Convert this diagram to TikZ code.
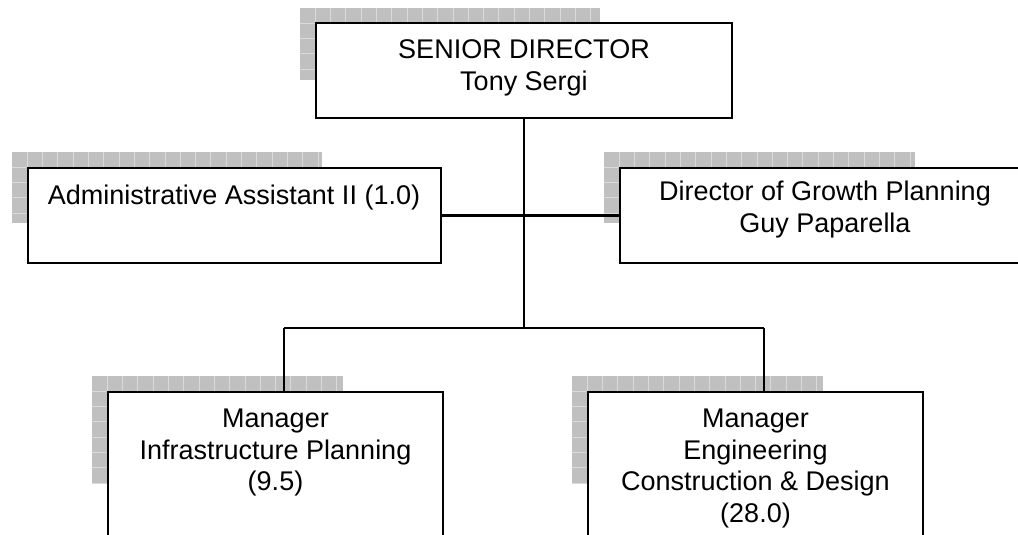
\documentclass[tikz,border=0pt]{standalone}
\usepackage{fontspec}
\setmainfont{Liberation Sans}
\definecolor{shadowgray}{HTML}{C0C0C0}
\definecolor{gridwhite}{HTML}{DADADA}
\newcommand\gshadow[4]{%
  \begin{scope}
    \clip (#1,#2) rectangle (#3,#4);
    \fill[shadowgray] (#1,#2) rectangle (#3,#4);
    \foreach \i in {1,...,24} { \draw[gridln] ({#1+15.3*\i},#2) -- ({#1+15.3*\i},#4); }
    \foreach \j in {1,...,8} { \draw[gridln] (#1,{#2+15.3*\j}) -- (#3,{#2+15.3*\j}); }
  \end{scope}}
\begin{document}
\begin{tikzpicture}[x=1pt,y=-1pt,
  orgbox/.style={draw, line width=2.8pt, fill=white, rectangle, inner sep=0pt},
  orgtext/.style={align=center, anchor=north, inner sep=0pt, font=\fontsize{27}{31.5}\selectfont},
  conn/.style={line width=2.8pt},
  gridln/.style={draw=gridwhite, line width=0.9pt}]
\useasboundingbox (0,0) rectangle (1018,535);
\clip (0,0) rectangle (1018,535);
\fill[white] (0,0) rectangle (1018,535);

% shadows
\gshadow{300}{8}{600}{80}
\gshadow{12}{152}{322}{223}
\gshadow{604}{152}{915}{223}
\gshadow{92}{376}{343}{483}
\gshadow{572}{376}{823}{483}

% bus coordinates
\coordinate (busmid) at (524,328);
\coordinate (busL) at (284,328);
\coordinate (busR) at (764,328);

% boxes
\node[orgbox, minimum width=416pt, minimum height=95pt] (senior) at (524,70.5) {};
\node[orgbox, minimum width=413pt, minimum height=95pt] (admin) at (234.5,215.5) {};
\node[orgbox, minimum width=410pt, minimum height=95pt] (growth) at (825,215.5) {};
\node[orgbox, minimum width=335pt, minimum height=150pt] (infra) at (275.5,467) {};
\node[orgbox, minimum width=335pt, minimum height=150pt] (eng) at (755.5,467) {};

% connectors
\draw[conn] (senior.south) -- (busmid);
\draw[conn] (admin.east) -- (growth.west);
\draw[conn] (busL) -- (busR);
\draw[conn] (busL) -- (busL |- infra.north);
\draw[conn] (busR) -- (busR |- eng.north);

% texts
\node[orgtext] (tsenior) at (524,39.8) {SENIOR DIRECTOR\\Tony Sergi};
\node[orgtext] (tadmin) at (234,184.5) {Administrative Assistant II (1.0)};
\node[orgtext] (tgrowth) at (825,181) {Director of Growth Planning\\Guy Paparella};
\node[orgtext] (tinfra) at (275.5,408.8) {Manager\\Infrastructure Planning\\(9.5)};
\node[orgtext] (teng) at (755.5,408.8) {Manager\\Engineering\\Construction \& Design\\(28.0)};
\end{tikzpicture}
\end{document}
